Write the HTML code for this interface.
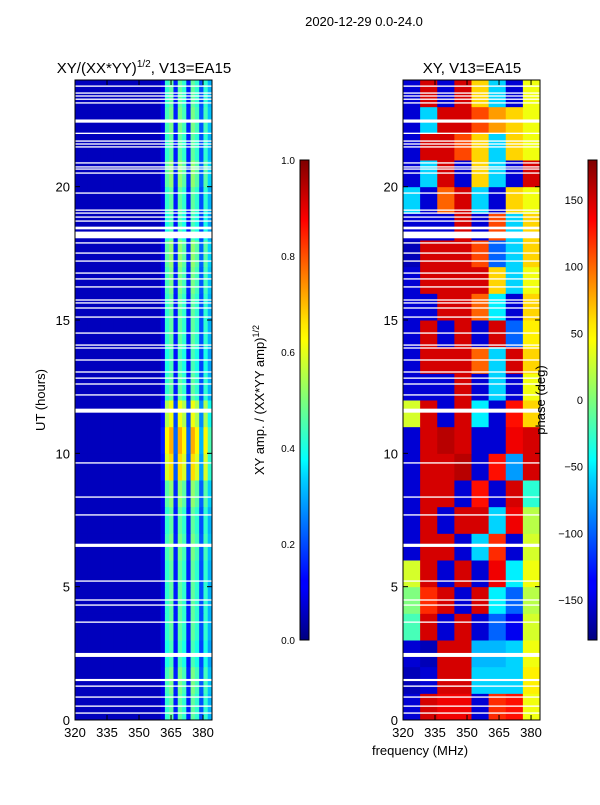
<!DOCTYPE html>
<html><head><meta charset="utf-8"><style>
body{margin:0;background:#fff;}
svg text{font-family:"Liberation Sans",sans-serif;fill:#000;}
</style></head><body>
<svg id="fig" width="600" height="800" xmlns="http://www.w3.org/2000/svg">
<defs>
<linearGradient id="jetV" x1="0" y1="1" x2="0" y2="0">
<stop offset="0" stop-color="#00007f"/><stop offset="0.11" stop-color="#0000ff"/><stop offset="0.125" stop-color="#0000ff"/>
<stop offset="0.34" stop-color="#00d4ff"/><stop offset="0.375" stop-color="#00ffff"/><stop offset="0.5" stop-color="#7dff7a"/>
<stop offset="0.625" stop-color="#ffff00"/><stop offset="0.66" stop-color="#ffe600"/><stop offset="0.875" stop-color="#ff0000"/><stop offset="1" stop-color="#7f0000"/>
</linearGradient>
</defs>
<text x="364" y="26" font-size="13" text-anchor="middle">2020-12-29 0.0-24.0</text>
<text x="144" y="73" font-size="15" text-anchor="middle">XY/(XX*YY)<tspan font-size="10" dy="-6">1/2</tspan><tspan dy="6">, V13=EA15</tspan></text>
<text x="472" y="73" font-size="15" text-anchor="middle">XY, V13=EA15</text>
<g id="left"></g>
<g id="right"></g>
<g id="axes"></g>
<rect x="300" y="160" width="9" height="480" fill="url(#jetV)" stroke="#000" stroke-width="1"/>
<rect x="588" y="160" width="9" height="480" fill="url(#jetV)" stroke="#000" stroke-width="1"/>
<text transform="translate(264,400) rotate(-90)" font-size="13" text-anchor="middle">XY amp. / (XX*YY amp)<tspan font-size="9" dy="-5">1/2</tspan></text>
<text transform="translate(545,400) rotate(-90)" font-size="13" text-anchor="middle">phase (deg)</text>
<text transform="translate(45,400) rotate(-90)" font-size="13" text-anchor="middle">UT (hours)</text>
<text x="420" y="755" font-size="13" text-anchor="middle">frequency (MHz)</text>
</svg>
<script>
const flagUT=[23.77,23.51,23.4,23.28,23.14,22.46,22.0,21.71,21.6,21.49,20.89,20.74,20.66,20.51,19.76,19.12,19.01,18.86,18.71,18.45,18.19,17.89,17.51,17.21,16.76,16.54,16.24,15.75,15.64,15.45,15.11,14.51,14.06,13.95,13.5,13.05,12.82,12.6,12.19,11.6,9.64,8.36,7.69,6.55,5.21,4.5,4.31,3.67,2.44,1.5,1.27,0.86,0.52,0.26];
const flagW=[0.05,0.05,0.05,0.05,0.05,0.12,0.05,0.05,0.05,0.05,0.05,0.05,0.05,0.05,0.05,0.05,0.05,0.05,0.05,0.1,0.25,0.05,0.05,0.05,0.05,0.05,0.05,0.05,0.05,0.05,0.05,0.05,0.05,0.05,0.05,0.05,0.05,0.05,0.05,0.15,0.05,0.05,0.05,0.12,0.05,0.05,0.05,0.05,0.15,0.08,0.05,0.05,0.05,0.05];
const ampProfile=[0.06,0.06,0.06,0.06,0.06,0.06,0.06,0.06,0.06,0.06,0.06,0.06,0.06,0.06,0.06,0.06,0.06,0.06,0.06,0.06,0.1,0.42,0.47,0.15,0.47,0.42,0.15,0.47,0.42,0.2,0.42,0.3];
const ampHourScale=[1.0,1.05,0.95,1.0,1.0,1.0,1.05,1.0,1.1,1.4,1.5,1.3,1.0,0.95,1.0,1.0,1.05,1.1,0.95,1.0,1.1,1.0,1.05,1.0];
const phaseMatrix=[
[-150,150,140,140,-150,120,130,40],
[-160,-150,150,150,-60,-60,-60,50],
[-150,-160,150,150,-70,-70,-60,40],
[-20,150,-150,150,-150,-100,-140,30],
[0,120,150,-150,150,-50,-100,20],
[30,150,-150,150,-150,140,-50,40],
[-150,150,150,-150,-60,120,-150,30],
[-150,150,-150,150,150,-60,140,20],
[-150,150,150,-150,130,-150,150,-30],
[-150,150,150,160,-150,130,-80,150],
[-150,150,160,150,-150,-150,140,150],
[30,150,-150,150,-50,-150,130,60],
[-150,-150,-150,150,-150,-60,-150,40],
[-150,150,150,150,100,-60,150,60],
[-150,150,-150,150,-150,150,-100,50],
[-150,-150,150,150,100,-50,-150,60],
[-150,150,150,150,150,60,-60,40],
[-160,150,150,150,110,-100,-60,60],
[-150,-150,-150,150,-150,110,-60,60],
[-60,-150,100,150,-60,-150,60,40],
[-150,-60,150,-150,60,-60,-150,150],
[-150,150,150,110,60,-60,60,40],
[-150,-60,150,150,110,80,60,40],
[-150,150,-150,150,60,-60,-150,40]];
const yTicks=[0,5,10,15,20];
const xTicks=[320,335,350,365,380];
const ampTicks=[0.0,0.2,0.4,0.6,0.8,1.0];
const phaseTicks=[-150,-100,-50,0,50,100,150];

const NS="http://www.w3.org/2000/svg";
const PY0=720,PY1=80,T0=0,T1=24,F0=320,F1=384.2;
const panels=[{x0:75,x1:212,g:'left'},{x0:403,x1:540,g:'right'}];
function yS(t){return PY0+(t-T0)/(T1-T0)*(PY1-PY0);}
function xS(p,f){return p.x0+(f-F0)/(F1-F0)*(p.x1-p.x0);}
function jet(v){v=Math.max(0,Math.min(1,v));
 const r=Math.max(0,Math.min(1,1.5-Math.abs(4*v-3))),g=Math.max(0,Math.min(1,1.5-Math.abs(4*v-2))),b=Math.max(0,Math.min(1,1.5-Math.abs(4*v-1)));
 return `rgb(${Math.round(r*255)},${Math.round(g*255)},${Math.round(b*255)})`;}
function mk(tag,attrs,parent){const e=document.createElementNS(NS,tag);for(const k in attrs)e.setAttribute(k,attrs[k]);parent.appendChild(e);return e;}

const gl=document.getElementById('left');
const dfA=(F1-F0)/ampProfile.length;
ampHourScale.forEach((s,h)=>{ampProfile.forEach((a,c)=>{
 const p=panels[0],xa=xS(p,F0+c*dfA),xb=xS(p,F0+(c+1)*dfA),ya=yS(h+1),yb=yS(h);
 const v=(F0+c*dfA>=360)?a*s:a;
 const r=mk('rect',{x:xa,y:ya,width:xb-xa+0.5,height:yb-ya+0.5,fill:jet(v)},gl);
 
 
});});
const gr=document.getElementById('right');
const dfP=(F1-F0)/phaseMatrix[0].length;
phaseMatrix.forEach((row,h)=>{row.forEach((v,c)=>{
 const p=panels[1],xa=xS(p,F0+c*dfP),xb=xS(p,F0+(c+1)*dfP),ya=yS(h+1),yb=yS(h);
 const r=mk('rect',{x:xa,y:ya,width:xb-xa+0.5,height:yb-ya+0.5,fill:jet((v+180)/360)},gr);
 
 
});});
const ax=document.getElementById('axes');
panels.forEach(p=>{
 flagUT.forEach((t,i)=>{
  const ya=yS(t+flagW[i]/2),yb=yS(t-flagW[i]/2);
  const r=mk('rect',{x:p.x0,y:ya,width:p.x1-p.x0,height:Math.max(1.2,yb-ya),fill:'#fff'},ax);
  
  
 });
 const f=mk('rect',{x:p.x0,y:PY1,width:p.x1-p.x0,height:PY0-PY1,fill:'none',stroke:'#000','stroke-width':1},ax);
 
 
 yTicks.forEach(t=>{
  const y=yS(t);
  mk('line',{x1:p.x0,x2:p.x0+5,y1:y,y2:y,stroke:'#000'},ax);
  mk('line',{x1:p.x1,x2:p.x1-5,y1:y,y2:y,stroke:'#000'},ax);
  const tx=mk('text',{x:p.x0-5,y:y+5,'font-size':13,'text-anchor':'end'},ax);tx.textContent=t;
  
  
 });
 xTicks.forEach(f0=>{
  const x=xS(p,f0);
  mk('line',{x1:x,x2:x,y1:PY0,y2:PY0-5,stroke:'#000'},ax);
  mk('line',{x1:x,x2:x,y1:PY1,y2:PY1+5,stroke:'#000'},ax);
  const tx=mk('text',{x:x,y:PY0+17,'font-size':13,'text-anchor':'middle'},ax);tx.textContent=f0;
  
  
 });
});
ampTicks.forEach(v=>{
 const y=640-v*480;
 mk('line',{x1:300,x2:304,y1:y,y2:y,stroke:'#000'},ax);
 const tx=mk('text',{x:295,y:y+4,'font-size':10,'text-anchor':'end'},ax);tx.textContent=v.toFixed(1);
 
 
});
phaseTicks.forEach(v=>{
 const y=400-v*(480/360);
 mk('line',{x1:588,x2:592,y1:y,y2:y,stroke:'#000'},ax);
 const tx=mk('text',{x:583,y:y+4,'font-size':11,'text-anchor':'end'},ax);tx.textContent=v<0?'\u2212'+(-v):v;
 
 
});
</script>
</body></html>
